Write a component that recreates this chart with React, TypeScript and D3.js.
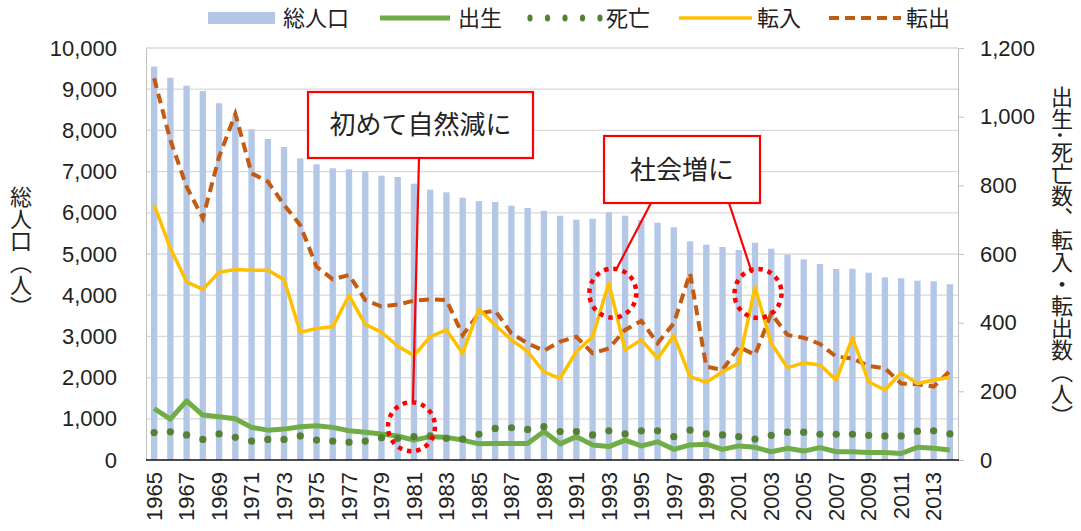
import * as d3 from 'd3';
import { useRef, useEffect } from 'react';

// 1965..2014
const years = d3.range(1965, 2015);

// 総人口 (left axis)
const population = [
    9550, 9280, 9085, 8956, 8660, 8350, 8026, 7791, 7597, 7322,
    7176, 7079, 7055, 7014, 6901, 6869, 6707, 6561, 6497, 6367,
    6286, 6262, 6173, 6117, 6051, 5930, 5833, 5857, 6012, 5930,
    5825, 5760, 5648, 5308, 5226, 5170, 5097, 5274, 5129, 4983,
    4871, 4757, 4636, 4643, 4546, 4434, 4410, 4352, 4337, 4264,
];

// right axis series
const births = [
    150, 119, 172, 131, 126, 120, 95, 87, 90, 97,
    100, 95, 85, 81, 76, 70, 58, 68, 66, 58,
    47, 48, 48, 48, 83, 47, 68, 44, 39, 58,
    41, 53, 31, 44, 46, 31, 41, 37, 24, 34,
    26, 36, 24, 24, 22, 22, 19, 37, 34, 29,
];
const deaths = [
    80, 82, 73, 60, 76, 66, 55, 60, 60, 70,
    58, 55, 52, 55, 65, 63, 68, 70, 63, 61,
    75, 92, 94, 89, 97, 83, 83, 73, 85, 76,
    85, 85, 68, 87, 76, 73, 68, 61, 72, 81,
    81, 75, 75, 75, 72, 70, 70, 84, 85, 76,
];
const moveIn = [
    743, 617, 519, 497, 547, 555, 553, 553, 526, 372,
    383, 388, 479, 395, 372, 332, 304, 359, 379, 311,
    439, 393, 350, 316, 257, 238, 316, 359, 516, 320,
    350, 296, 362, 243, 226, 257, 282, 503, 340, 269,
    283, 277, 233, 356, 228, 204, 254, 223, 233, 241,
];
const moveOut = [
    1112, 932, 796, 704, 883, 1008, 835, 811, 743, 684,
    563, 526, 539, 466, 447, 453, 464, 468, 466, 364,
    427, 435, 369, 340, 318, 345, 359, 311, 325, 379,
    405, 340, 398, 544, 272, 262, 330, 306, 427, 364,
    356, 338, 301, 296, 274, 267, 223, 221, 214, 259,
];

const leftTicks = d3.range(0, 10001, 1000);
const rightTicks = d3.range(0, 1201, 200);

const callouts = [
    { text: '初めて自然減に', box: [308, 92, 225, 66], from: [[419, 158]], year: 1981, value: 97, dx: -2.5, to: [[1.5, -25]] },
    { text: '社会増に', box: [604, 136, 156, 67], from: [[651, 203]], year: 1993, value: 486, dx: 4, to: [[3, -23]] },
    { text: '', box: null, from: [[729, 203]], year: 2002, value: 485, dx: 3, to: [[-6, -20.5]] },
];

const JP = '"Noto Sans CJK JP", sans-serif';
const NUM = '"Liberation Sans", Arial, sans-serif';

export default function App() {
    const svgRef = useRef<SVGSVGElement>(null);

    useEffect(() => {
        if (!svgRef.current) return;
        const svg = d3.select(svgRef.current);
        svg.selectAll('*').remove();

        const left = 146, right = 958, top = 48, bottom = 460;

        const x = d3.scaleBand<number>().domain(years).range([left, right]).paddingInner(0.61).paddingOuter(0.305);
        const cx = (yr: number) => (x(yr) || 0) + x.bandwidth() / 2;
        const y = d3.scaleLinear().domain([0, 10000]).range([bottom, top]);
        const y2 = d3.scaleLinear().domain([0, 1200]).range([bottom, top]);

        // gridlines
        svg.append('g')
            .selectAll('line')
            .data(leftTicks.filter(t => t > 0))
            .enter()
            .append('line')
            .attr('x1', left).attr('x2', right)
            .attr('y1', d => y(d)).attr('y2', d => y(d))
            .attr('stroke', '#d9d9d9').attr('stroke-width', 1.3);

        // bars
        svg.append('g')
            .selectAll('rect')
            .data(population)
            .enter()
            .append('rect')
            .attr('x', (_, i) => x(years[i]) || 0)
            .attr('y', d => y(d))
            .attr('width', x.bandwidth())
            .attr('height', d => bottom - y(d))
            .attr('fill', '#b4c7e7');

        // axes
        const yAxis = svg.append('g')
            .attr('transform', `translate(${left},0)`)
            .call(d3.axisLeft(y).tickValues(leftTicks).tickFormat(d3.format(',')).tickSize(0).tickPadding(29));
        yAxis.select('.domain').attr('stroke', '#bfbfbf');

        const y2Axis = svg.append('g')
            .attr('transform', `translate(${right},0)`)
            .call(d3.axisRight(y2).tickValues(rightTicks).tickFormat(d3.format(',')).tickSize(6).tickSizeOuter(0).tickPadding(16));
        y2Axis.select('.domain').attr('stroke', '#bfbfbf');
        y2Axis.selectAll('.tick line').attr('stroke', '#bfbfbf');

        const xAxis = svg.append('g')
            .attr('transform', `translate(0,${bottom})`)
            .call(d3.axisBottom(x).tickValues(years.filter((_, i) => i % 2 === 0)).tickSize(0).tickSizeOuter(0));
        xAxis.select('.domain').remove();
        xAxis.selectAll('.tick text')
            .attr('transform', 'rotate(-90)')
            .attr('x', -12).attr('y', 0).attr('dy', '0.35em')
            .attr('text-anchor', 'end');

        svg.selectAll('.tick text')
            .attr('font-family', NUM).attr('font-size', 22).attr('fill', '#222');

        svg.append('line')
            .attr('x1', left).attr('x2', right + 1)
            .attr('y1', bottom).attr('y2', bottom)
            .attr('stroke', '#111').attr('stroke-width', 1.6);

        // lines
        const line = d3.line<number>().x((_, i) => cx(years[i])).y(d => y2(d));

        svg.append('path').datum(moveOut).attr('d', line)
            .attr('fill', 'none').attr('stroke', '#c55a11').attr('stroke-width', 4)
            .attr('stroke-dasharray', '10,6');
        svg.append('path').datum(moveIn).attr('d', line)
            .attr('fill', 'none').attr('stroke', '#ffc000').attr('stroke-width', 3.5)
            .attr('stroke-linejoin', 'round');
        svg.append('path').datum(births).attr('d', line)
            .attr('fill', 'none').attr('stroke', '#70ad47').attr('stroke-width', 5)
            .attr('stroke-linejoin', 'round');
        svg.append('g')
            .selectAll('circle')
            .data(deaths)
            .enter()
            .append('circle')
            .attr('cx', (_, i) => cx(years[i]))
            .attr('cy', d => y2(d))
            .attr('r', 3.6)
            .attr('fill', '#548235');

        // callouts
        callouts.forEach(c => {
            const ccx = cx(c.year) + c.dx;
            const ccy = y2(c.value);
            svg.append('ellipse')
                .attr('cx', ccx).attr('cy', ccy).attr('rx', 23.5).attr('ry', 24.5)
                .attr('fill', 'none').attr('stroke', '#ff0000').attr('stroke-width', 4.5)
                .attr('stroke-dasharray', '4.5,4.9');
            c.from.forEach((f, k) => {
                svg.append('line')
                    .attr('x1', f[0]).attr('y1', f[1])
                    .attr('x2', ccx + c.to[k][0]).attr('y2', ccy + c.to[k][1])
                    .attr('stroke', '#ff0000').attr('stroke-width', 2.2);
            });
            if (c.box) {
                const [bx, by, bw, bh] = c.box;
                svg.append('rect')
                    .attr('x', bx).attr('y', by).attr('width', bw).attr('height', bh)
                    .attr('fill', '#fff').attr('stroke', '#ff0000').attr('stroke-width', 2.2);
                svg.append('text')
                    .attr('x', bx + bw / 2).attr('y', by + bh / 2)
                    .attr('dy', '0.36em').attr('text-anchor', 'middle')
                    .attr('font-family', JP).attr('font-size', 26).attr('fill', '#222')
                    .text(c.text);
            }
        });

        // axis titles
        svg.append('text')
            .attr('x', 21).attr('y', 252)
            .attr('text-anchor', 'middle')
            .style('writing-mode', 'vertical-rl')
            .attr('font-family', JP).attr('font-size', 22).attr('fill', '#222')
            .text('総人口（人）');
        svg.append('text')
            .attr('x', 1062).attr('y', 256)
            .attr('text-anchor', 'middle')
            .style('writing-mode', 'vertical-rl')
            .attr('font-family', JP).attr('font-size', 22).attr('fill', '#222')
            .text('出生･死亡数、転入・転出数（人）');

        // legend
        const lg = svg.append('g');
        const ly = 18;
        lg.append('rect').attr('x', 208).attr('y', ly - 6).attr('width', 67).attr('height', 12).attr('fill', '#b4c7e7');
        lg.append('line').attr('x1', 380).attr('x2', 450).attr('y1', ly).attr('y2', ly)
            .attr('stroke', '#70ad47').attr('stroke-width', 5);
        [0, 1, 2, 3, 4].forEach(k => {
            lg.append('ellipse').attr('cx', 530 + k * 17.5).attr('cy', ly).attr('rx', 2.6).attr('ry', 3.6).attr('fill', '#548235');
        });
        lg.append('line').attr('x1', 679).attr('x2', 752).attr('y1', ly).attr('y2', ly)
            .attr('stroke', '#ffc000').attr('stroke-width', 3.5);
        lg.append('line').attr('x1', 829).attr('x2', 901).attr('y1', ly).attr('y2', ly)
            .attr('stroke', '#c55a11').attr('stroke-width', 4).attr('stroke-dasharray', '10,6');
        const labels: [number, string][] = [[283, '総人口'], [458, '出生'], [606, '死亡'], [757, '転入'], [906, '転出']];
        labels.forEach(([lx, t]) => {
            lg.append('text').attr('x', lx).attr('y', ly).attr('dy', '0.36em')
                .attr('font-family', JP).attr('font-size', 22).attr('fill', '#222').text(t);
        });
    }, []);

    return (
        <div style={{ position: 'absolute', left: 0, top: 0 }}>
            <svg ref={svgRef} width={1081} height={531} style={{ display: 'block', background: '#fff' }} />
        </div>
    );
}
